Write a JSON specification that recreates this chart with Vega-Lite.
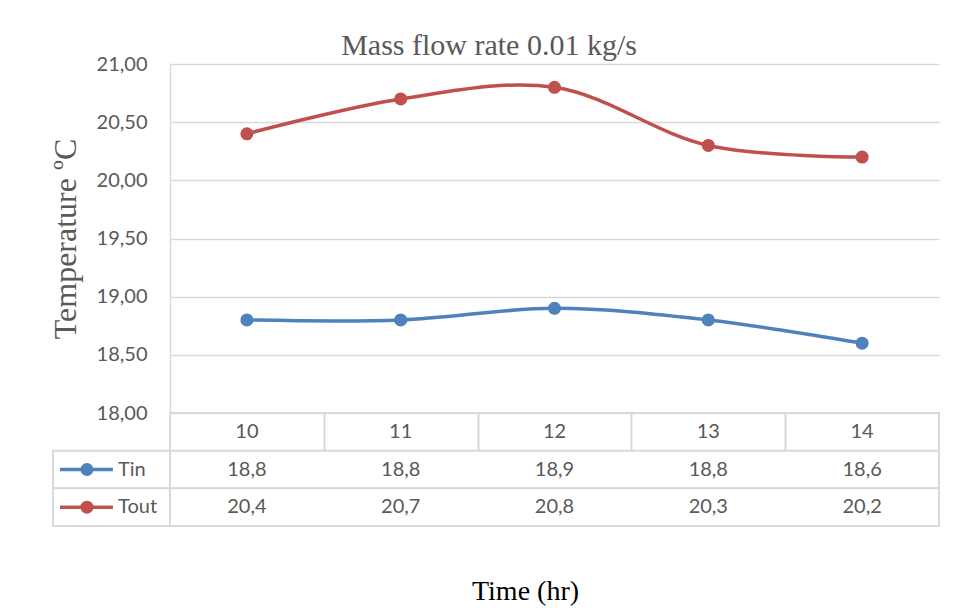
{
  "$schema": "https://vega.github.io/schema/vega-lite/v6.json",
  "background": "white",
  "padding": {"left": 49, "top": 31, "right": 15, "bottom": 0},
  "config": {
    "locale": {"number": {"decimal": ",", "thousands": ".", "grouping": [3], "currency": ["", " €"]}},
    "view": {"stroke": null},
    "font": "Lato"
  },
  "datasets": {
    "temps": [
      {"time": 10, "series": "Tin", "temp": 18.8},
      {"time": 11, "series": "Tin", "temp": 18.8},
      {"time": 12, "series": "Tin", "temp": 18.9},
      {"time": 13, "series": "Tin", "temp": 18.8},
      {"time": 14, "series": "Tin", "temp": 18.6},
      {"time": 10, "series": "Tout", "temp": 20.4},
      {"time": 11, "series": "Tout", "temp": 20.7},
      {"time": 12, "series": "Tout", "temp": 20.8},
      {"time": 13, "series": "Tout", "temp": 20.3},
      {"time": 14, "series": "Tout", "temp": 20.2}
    ],
    "series": [{"series": "Tin"}, {"series": "Tout"}],
    "times": [{"time": 10}, {"time": 11}, {"time": 12}, {"time": 13}, {"time": 14}]
  },
  "title": {"text": "Mass flow rate 0.01 kg/s", "font": "Liberation Serif", "fontSize": 30, "fontWeight": "normal", "color": "#595959", "anchor": "middle", "offset": -7, "dx": -6},
  "spacing": 0,
  "bounds": "flush",
  "vconcat": [
    {
      "width": 769,
      "height": 349,
      "data": {"name": "temps"},
      "encoding": {
        "x": {"field": "time", "type": "quantitative", "scale": {"domain": [9.5, 14.5], "nice": false, "zero": false}, "axis": null},
        "y": {"field": "temp", "type": "quantitative", "scale": {"domain": [18, 21], "nice": false, "zero": false},
          "axis": {"values": [18, 18.5, 19, 19.5, 20, 20.5, 21], "format": ".2f", "title": "Temperature ºC",
            "grid": true, "gridColor": "#D9D9D9", "gridWidth": 1.3, "domainColor": "#D9D9D9", "domainWidth": 1.5, "ticks": false,
            "labelFont": "Lato", "labelFontSize": 20, "labelColor": "#595959", "labelPadding": 23,
            "titleFont": "Liberation Serif", "titleFontSize": 32, "titleFontWeight": "normal", "titleColor": "#595959", "titlePadding": 14}},
        "color": {"field": "series", "type": "nominal", "scale": {"domain": ["Tin", "Tout"], "range": ["#4F81BD", "#C0504D"]}, "legend": null}
      },
      "layer": [
        {"mark": {"type": "line", "interpolate": "catmull-rom", "strokeWidth": 3.5}},
        {"mark": {"type": "point", "filled": true, "size": 170, "opacity": 1}}
      ]
    },
    {
      "width": 769,
      "height": 113,
      "view": {"stroke": "#D9D9D9", "strokeWidth": 2},
      "layer": [
        {
          "data": {"name": "series"},
          "mark": {"type": "rect", "fill": "white", "stroke": "#D9D9D9", "strokeWidth": 2},
          "encoding": {
            "x": {"datum": 9.5, "type": "quantitative", "scale": {"domain": [9.5, 14.5], "nice": false, "zero": false}},
            "x2": {"datum": 14.5},
            "y": {"field": "series", "type": "nominal", "scale": {"domain": ["Time", "Tin", "Tout"], "paddingInner": 0, "paddingOuter": 0}, "axis": null}
          }
        },
        {
          "data": {"name": "series"},
          "mark": {"type": "rect", "fill": "white", "stroke": "#D9D9D9", "strokeWidth": 2},
          "encoding": {
            "x": {"datum": 8.739, "type": "quantitative", "scale": {"domain": [9.5, 14.5], "nice": false, "zero": false}},
            "x2": {"datum": 9.5},
            "y": {"field": "series", "type": "nominal", "scale": {"domain": ["Time", "Tin", "Tout"], "paddingInner": 0, "paddingOuter": 0}, "axis": null}
          }
        },
        {
          "data": {"name": "times"},
          "mark": {"type": "text", "font": "Lato", "fontSize": 20, "color": "#595959"},
          "encoding": {
            "x": {"field": "time", "type": "quantitative", "scale": {"domain": [9.5, 14.5], "nice": false, "zero": false},
              "axis": {"values": [10.5, 11.5, 12.5, 13.5], "grid": true, "gridColor": "#D9D9D9", "gridWidth": 2, "labels": false, "ticks": false, "domain": false,
                "title": "Time (hr)", "titleFont": "Liberation Serif", "titleFontSize": 28, "titleFontWeight": "normal", "titleColor": "#000000", "titlePadding": 51, "titleX": 355}},
            "y": {"datum": "Time", "type": "nominal", "scale": {"domain": ["Time", "Tin", "Tout"], "paddingInner": 0, "paddingOuter": 0}, "axis": null},
            "text": {"field": "time", "type": "quantitative"}
          }
        },
        {
          "data": {"name": "temps"},
          "mark": {"type": "text", "font": "Lato", "fontSize": 20, "color": "#595959"},
          "encoding": {
            "x": {"field": "time", "type": "quantitative", "scale": {"domain": [9.5, 14.5], "nice": false, "zero": false}},
            "y": {"field": "series", "type": "nominal", "scale": {"domain": ["Time", "Tin", "Tout"], "paddingInner": 0, "paddingOuter": 0}, "axis": null},
            "text": {"field": "temp", "type": "quantitative", "format": ".1f"}
          }
        },
        {
          "data": {"name": "series"},
          "mark": {"type": "rule", "strokeWidth": 3.5},
          "encoding": {
            "x": {"datum": 8.785, "type": "quantitative", "scale": {"domain": [9.5, 14.5], "nice": false, "zero": false}},
            "x2": {"datum": 9.129},
            "y": {"field": "series", "type": "nominal", "scale": {"domain": ["Time", "Tin", "Tout"], "paddingInner": 0, "paddingOuter": 0}, "axis": null},
            "color": {"field": "series", "type": "nominal", "scale": {"domain": ["Tin", "Tout"], "range": ["#4F81BD", "#C0504D"]}, "legend": null}
          }
        },
        {
          "data": {"name": "series"},
          "mark": {"type": "point", "filled": true, "size": 170, "opacity": 1},
          "encoding": {
            "x": {"datum": 8.96, "type": "quantitative", "scale": {"domain": [9.5, 14.5], "nice": false, "zero": false}},
            "y": {"field": "series", "type": "nominal", "scale": {"domain": ["Time", "Tin", "Tout"], "paddingInner": 0, "paddingOuter": 0}, "axis": null},
            "color": {"field": "series", "type": "nominal", "scale": {"domain": ["Tin", "Tout"], "range": ["#4F81BD", "#C0504D"]}, "legend": null}
          }
        },
        {
          "data": {"name": "series"},
          "mark": {"type": "text", "font": "Lato", "fontSize": 20, "color": "#595959", "align": "left"},
          "encoding": {
            "x": {"datum": 9.162, "type": "quantitative", "scale": {"domain": [9.5, 14.5], "nice": false, "zero": false}},
            "y": {"field": "series", "type": "nominal", "scale": {"domain": ["Time", "Tin", "Tout"], "paddingInner": 0, "paddingOuter": 0}, "axis": null},
            "text": {"field": "series", "type": "nominal"}
          }
        }
      ]
    }
  ]
}
